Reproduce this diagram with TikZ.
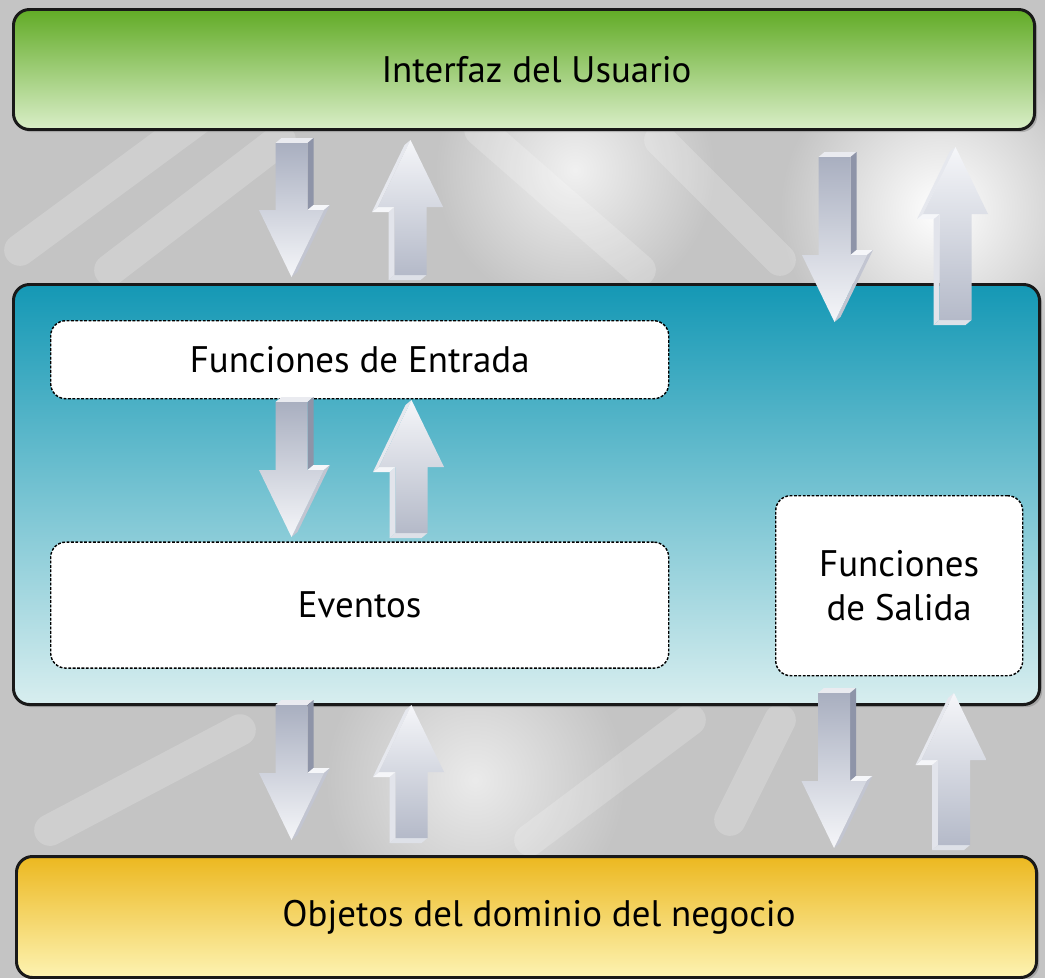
\documentclass[tikz,border=0pt]{standalone}
\usepackage{fontspec}
\setmainfont{PT Sans}
\usetikzlibrary{positioning,shadows}

\definecolor{uitop}{HTML}{62AB26}
\definecolor{uibot}{HTML}{D9EEC8}
\definecolor{coretop}{HTML}{1498B5}
\definecolor{corebot}{HTML}{D8EEEF}
\definecolor{botop}{HTML}{ECB820}
\definecolor{bobot}{HTML}{FDF3B2}
\definecolor{arrlight}{HTML}{F5F6F9}
\definecolor{arrdark}{HTML}{A9AFC0}
\definecolor{arrside}{HTML}{8E94A8}
\definecolor{bggrey}{HTML}{C4C4C4}

% 3d block arrows: centre x, start y, tip y
\newcommand{\arrdown}[3]{
  \fill[arrlight!85!arrdark] (#1-0.32,#2) -- (#1-0.2,#2+0.1) -- (#1+0.44,#2+0.1) -- (#1+0.32,#2) -- cycle;
  \fill[arrside] (#1+0.32,#2) -- (#1+0.44,#2+0.1) -- (#1+0.44,#3+1.44) -- (#1+0.32,#3+1.34) -- cycle;
  \fill[arrlight] (#1+0.32,#3+1.34) -- (#1+0.44,#3+1.44) -- (#1+0.77,#3+1.44) -- (#1+0.65,#3+1.34) -- cycle;
  \fill[arrside!50!arrlight] (#1+0.65,#3+1.34) -- (#1+0.77,#3+1.44) -- (#1+0.12,#3+0.1) -- (#1,#3) -- cycle;
  \shade[top color=arrdark, bottom color=arrlight] (#1-0.32,#2) -- (#1+0.32,#2) -- (#1+0.32,#3+1.34)
    -- (#1+0.65,#3+1.34) -- (#1,#3) -- (#1-0.65,#3+1.34) -- (#1-0.32,#3+1.34) -- cycle;
}
\newcommand{\arrup}[3]{
  \fill[arrlight!70!arrdark] (#1+0.32,#2) -- (#1+0.2,#2-0.1) -- (#1-0.44,#2-0.1) -- (#1-0.32,#2) -- cycle;
  \fill[arrlight!75!arrdark] (#1-0.32,#2) -- (#1-0.44,#2-0.1) -- (#1-0.44,#3-1.44) -- (#1-0.32,#3-1.34) -- cycle;
  \fill[arrlight] (#1-0.32,#3-1.34) -- (#1-0.44,#3-1.44) -- (#1-0.77,#3-1.44) -- (#1-0.65,#3-1.34) -- cycle;
  \fill[arrlight!80!arrdark] (#1-0.65,#3-1.34) -- (#1-0.77,#3-1.44) -- (#1-0.12,#3-0.1) -- (#1,#3) -- cycle;
  \shade[top color=arrlight, bottom color=arrdark!85!arrlight] (#1+0.32,#2) -- (#1-0.32,#2) -- (#1-0.32,#3-1.34)
    -- (#1-0.65,#3-1.34) -- (#1,#3) -- (#1+0.65,#3-1.34) -- (#1+0.32,#3-1.34) -- cycle;
}

\begin{document}
\begin{tikzpicture}[
        font=\fontsize{21}{25}\selectfont,
        layer/.style={ draw=black!90, line width=1.7pt, rounded corners=0.32cm, anchor=north west,
            drop shadow={opacity=0.45, shadow xshift=1.5pt, shadow yshift=-1.5pt} },
        inner/.style={ draw, fill=white, line width=0.8pt, dash pattern=on 1.6pt off 0.9pt,
            rounded corners=0.3cm, align=center },
        streak/.style={ white, line width=18pt, line cap=round, opacity=0.2 }
    ]

    \useasboundingbox (0,0) rectangle (20.9,-19.56);
    \fill[bggrey] (0,0) rectangle (20.9,-19.56);
    \shade[inner color=white, outer color=bggrey] (18.8,-4.2) circle (3.2);
    \shade[inner color=white!75!bggrey, outer color=bggrey] (11.5,-3.4) circle (2.8);
    \shade[inner color=white!65!bggrey, outer color=bggrey] (9.5,-15.6) circle (3);
    \draw[streak] (0.4,-5.0) -- (4.2,-2.2);
    \draw[streak] (2.2,-5.4) -- (5.6,-2.8);
    \draw[streak] (9.6,-2.6) -- (12.8,-5.4);
    \draw[streak] (13.2,-2.8) -- (15.6,-5.2);
    \draw[streak] (1.0,-16.6) -- (4.8,-14.6);
    \draw[streak] (10.6,-16.8) -- (13.8,-14.4);
    \draw[streak] (14.6,-16.4) -- (15.6,-14.4);

    \node[layer, top color=uitop, bottom color=uibot, minimum width=20.42cm, minimum height=2.4cm]
        (ui) at (0.24,-0.16) {};
    \node[xshift=0.25cm] (uitext) at (ui.center) {Interfaz del Usuario};

    \node[layer, top color=coretop, bottom color=corebot, minimum width=20.52cm, minimum height=8.4cm]
        (core) at (0.24,-5.66) {};

    \node[layer, top color=botop, bottom color=bobot, minimum width=20.4cm, minimum height=2.42cm]
        (bo) at (0.3,-17.1) {};
    \node[xshift=0.25cm] (botext) at (bo.center) {Objetos del dominio del negocio};

    \node[inner, minimum width=12.36cm, minimum height=1.56cm, anchor=north west]
        (entrada) at (1.0,-6.4) {Funciones de Entrada};
    \node[inner, minimum width=12.36cm, minimum height=2.52cm, below=2.84cm of entrada.south west, anchor=north west]
        (eventos) {Eventos};
    \node[inner, minimum width=4.94cm, minimum height=3.6cm, anchor=north west]
        (salida) at (15.5,-9.9) {Funciones\\de Salida};

    \arrdown{5.83}{-2.86}{-5.54}
    \arrup{8.21}{-5.5}{-2.8}
    \arrdown{16.69}{-3.14}{-6.44}
    \arrup{19.11}{-6.4}{-2.94}

    \arrdown{5.83}{-8.04}{-10.74}
    \arrup{8.23}{-10.66}{-8.0}

    \arrdown{5.83}{-14.1}{-16.8}
    \arrup{8.23}{-16.76}{-14.1}
    \arrdown{16.68}{-13.86}{-16.96}
    \arrup{19.08}{-16.9}{-13.86}
\end{tikzpicture}
\end{document}
